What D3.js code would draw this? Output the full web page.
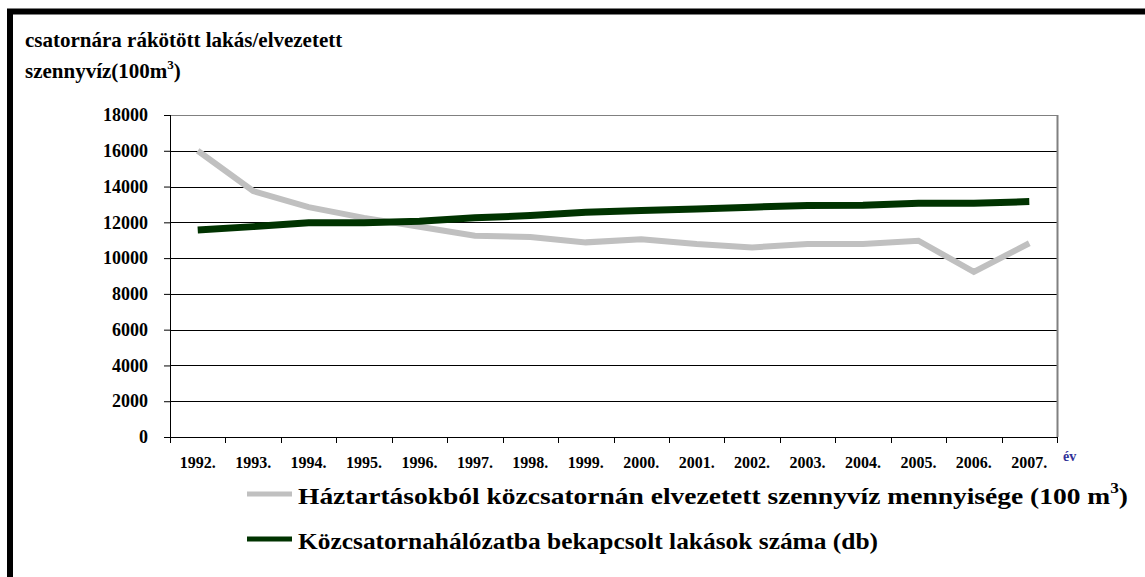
<!DOCTYPE html>
<html>
<head>
<meta charset="utf-8">
<script src="https://cdn.jsdelivr.net/npm/d3@7"></script>
<style>
  body { margin: 0; background: #fff; }
</style>
</head>
<body>
<div id="chart-area"></div>
<script>
const years = ["1992.", "1993.", "1994.", "1995.", "1996.", "1997.", "1998.", "1999.",
  "2000.", "2001.", "2002.", "2003.", "2004.", "2005.", "2006.", "2007."];
const szennyviz = [16000, 13750, 12850, 12250, 11750, 11250, 11180, 10880,
  11060, 10790, 10600, 10790, 10790, 10970, 9230, 10830];
const lakasok = [11570, 11760, 11970, 11980, 12060, 12250, 12380, 12560,
  12660, 12750, 12850, 12940, 12960, 13060, 13070, 13160];
const yTicks = [0, 2000, 4000, 6000, 8000, 10000, 12000, 14000, 16000, 18000];
const legendNames = ["Háztartásokból közcsatornán elvezetett szennyvíz mennyisége (100 m", "Közcsatornahálózatba bekapcsolt lakások száma (db)"];

const W = 1145, H = 577;
const margin = { left: 170, right: 88, top: 115, bottom: 140 };
const width = W - margin.left - margin.right;
const height = H - margin.top - margin.bottom;

// serif bold on every text element
function serif(sel, size) {
  sel.style("font-family", "'Liberation Serif'")
    .style("font-weight", "bold")
    .style("font-size", size);
  return sel;
}

const svg = d3.select("#chart-area")
  .append("svg")
    .attr("width", W)
    .attr("height", H);

// outer frame (only left and top visible)
svg.append("rect")
  .attr("x", 10).attr("y", 11.5)
  .attr("width", W + 50).attr("height", H + 50)
  .attr("fill", "none").attr("stroke", "#000").attr("stroke-width", 6);

// title
const title = serif(svg.append("text").attr("x", 25).attr("y", 47), "21px");
title.append("tspan").text("csatornára rákötött lakás/elvezetett");
const t2 = serif(svg.append("text").attr("x", 25).attr("y", 78), "21px");
t2.append("tspan").text("szennyvíz(100m");
t2.append("tspan").style("font-size", "13px").attr("dy", -9).text("3");
t2.append("tspan").attr("dy", 9).text(")");

const g = svg.append("g")
  .attr("transform", "translate(" + margin.left + "," + margin.top + ")");

const x = d3.scaleBand()
  .domain(years)
  .range([0, width])
  .padding(0);

const y = d3.scaleLinear()
  .domain([0, 18000])
  .range([height, 0]);

// gridlines
g.append("g")
  .selectAll("line")
  .data(yTicks.filter(d => d > 0))
  .enter().append("line")
    .attr("x1", 0).attr("x2", width)
    .attr("y1", d => Math.round(y(d)) + 0.5).attr("y2", d => Math.round(y(d)) + 0.5)
    .attr("stroke", d => d === 18000 ? "#808080" : "#000")
    .attr("stroke-width", 1);

// right frame
g.append("line")
  .attr("x1", width + 0.5).attr("x2", width + 0.5)
  .attr("y1", 0).attr("y2", height)
  .attr("stroke", "#808080").attr("stroke-width", 2);

// y axis
const yAxisCall = d3.axisLeft(y)
  .tickValues(yTicks)
  .tickSize(6)
  .tickPadding(16)
  .tickFormat(d => d);
const yAxis = g.append("g")
  .attr("class", "y axis")
  .call(yAxisCall);
yAxis.select(".domain").attr("d", "M0.5," + height + "V0").attr("stroke", "#000");
serif(yAxis.selectAll("text"), "18px").attr("fill", "#000");

// x axis
const xAxisCall = d3.axisBottom(x).tickSize(0).tickPadding(20);
const xAxis = g.append("g")
  .attr("class", "x axis")
  .attr("transform", "translate(0, " + height + ")")
  .call(xAxisCall);
xAxis.select(".domain").attr("d", "M0," + 0.5 + "H" + width).attr("stroke", "#000");
serif(xAxis.selectAll("text"), "16px").attr("fill", "#000");
xAxis.selectAll(".bound")
  .data(years.map(d => x(d)).concat([width]))
  .enter().append("line")
    .attr("class", "bound")
    .attr("x1", d => Math.round(d) + 0.5).attr("x2", d => Math.round(d) + 0.5)
    .attr("y1", 0).attr("y2", 6)
    .attr("stroke", "#000");

serif(g.append("text"), "14px")
  .attr("x", width + 6)
  .attr("y", height + 24)
  .attr("fill", "#333399")
  .text("év");

// lines
const cx = (d, i) => x(years[i]) + x.bandwidth() / 2;
const line = d3.line().x((d, i) => cx(d, i)).y(d => y(d));

g.append("path")
  .datum(szennyviz)
  .attr("d", line)
  .attr("fill", "none")
  .attr("stroke", "#c0c0c0")
  .attr("stroke-width", 6);

g.append("path")
  .datum(lakasok)
  .attr("d", line)
  .attr("fill", "none")
  .attr("stroke", "#003300")
  .attr("stroke-width", 7);

// legend
const legend = svg.append("g");
const colors = ["#c0c0c0", "#003300"];
const ly = [494, 539];
const lw = [830, 580];
legendNames.forEach((name, i) => {
  legend.append("line")
    .attr("x1", 247).attr("x2", 292)
    .attr("y1", ly[i]).attr("y2", ly[i])
    .attr("stroke", colors[i]).attr("stroke-width", 5);
  const t = serif(legend.append("text"), "24px")
    .attr("x", 298).attr("y", ly[i] + 10)
    .attr("textLength", lw[i])
    .attr("lengthAdjust", "spacingAndGlyphs");
  t.append("tspan").text(name);
  if (i === 0) {
    t.append("tspan").style("font-size", "15px").attr("dy", -11).text("3");
    t.append("tspan").attr("dy", 11).text(")");
  }
});
</script>
</body>
</html>
